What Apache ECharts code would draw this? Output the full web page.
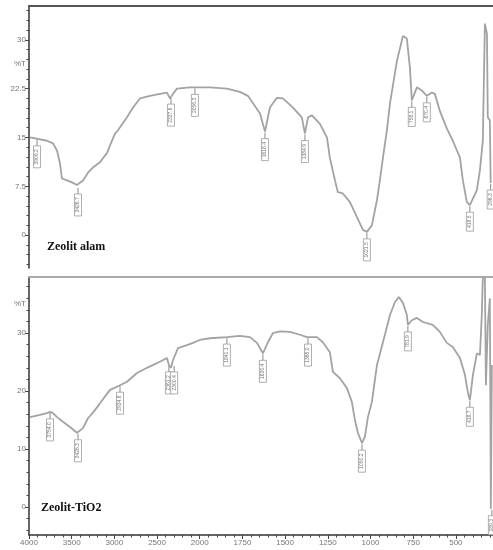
<!DOCTYPE html>
<html>
<head>
<meta charset="utf-8">
<script src="https://cdn.jsdelivr.net/npm/echarts@6/dist/echarts.min.js"></script>
<style>
html,body{margin:0;padding:0;background:#fff;}
#chart{width:493px;height:550px;}
</style>
</head>
<body>
<div id="chart"></div>
<script>
// ---- Data (wavenumber cm-1, %T) ----
const topWn = [3988,3789,3719,3672,3637,3614,3555,3496,3438,3426,3368,3309,3251,3169,3087,3051,2993,2958,2852,2782,2700,2583,2466,2384,2349,2314,2267,2115,1940,1841,1765,1718,1647,1618,1589,1548,1513,1454,1402,1384,1366,1343,1296,1255,1238,1208,1191,1162,1121,1080,1044,1021,992,962,945,927,904,886,845,810,787,769,758,728,699,670,640,623,594,553,518,476,459,436,418,377,359,342,330,318,313,301,296];
const topT  = [15.0,14.5,14.1,13.0,11.0,8.7,8.4,8.1,7.7,7.4,8.4,9.6,10.4,11.2,12.6,13.8,15.6,16.1,18.1,19.6,21.0,21.4,21.7,21.9,21.0,21.7,22.5,22.7,22.7,22.5,22.0,21.4,18.7,15.9,19.6,21.1,21.0,19.6,18.1,15.6,18.1,18.4,17.1,15.0,11.9,8.4,6.6,6.4,5.1,2.8,0.8,0.5,1.5,5.4,8.4,11.9,16.1,20.2,26.8,30.6,30.2,25.7,20.7,22.7,22.2,21.4,21.9,21.7,19.1,16.4,14.5,11.9,8.4,5.1,4.6,6.9,10.0,14.5,32.5,30.9,18.1,17.6,8.0];

const botWn = [3988,3871,3789,3754,3719,3672,3602,3520,3438,3426,3368,3309,3227,3169,3051,2934,2852,2735,2618,2501,2384,2361,2337,2314,2255,2150,2080,2000,1940,1841,1765,1706,1665,1630,1601,1571,1530,1472,1413,1372,1314,1279,1238,1220,1179,1138,1109,1091,1074,1050,1033,1015,992,962,927,886,857,834,810,787,781,758,728,693,635,594,553,518,476,447,430,418,400,377,359,348,342,330,324,313,301,295,289];
const botT  = [15.5,15.9,16.2,16.4,16.2,15.5,14.7,13.8,12.8,12.8,13.6,15.3,16.7,17.9,20.2,21.0,21.6,23.1,24.0,24.8,25.7,24.5,24.0,25.3,27.4,27.9,28.3,28.8,29.1,29.3,29.5,29.3,28.3,26.5,28.4,30.0,30.3,30.2,29.7,29.3,29.3,28.4,26.7,23.3,22.2,20.5,18.1,15.0,12.8,11.0,12.1,15.5,18.1,24.5,28.4,33.1,35.3,36.2,35.2,33.1,31.4,32.2,32.6,31.9,31.4,30.2,28.3,27.6,25.7,22.8,19.8,18.4,22.8,26.5,26.2,33.1,39.6,39.6,21.0,31.4,36.0,-0.3,24.5];

// peak annotations
const topPeakWn   = [3906,3426,2337,2056,1618,1384,1021,758,670,418,296];
const topPeakT    = [14.8,7.4,21.2,22.7,15.9,15.6,0.5,20.7,21.4,4.6,8.0];
const topPeakText = ['3906.2','3426.7','2337.6','2056.3','1618.4','1384.9','1021.5','758.1','670.4','418.5','296.3'];

const botPeakWn   = [3754,3426,2934,2361,2300,1841,1630,1366,1050,781,418,289];
const botPeakT    = [16.4,12.8,21.0,24.5,24.5,29.3,26.5,29.3,11.0,31.4,18.4,-0.3];
const botPeakText = ['3754.0','3426.3','2934.6','2361.2','2300.4','1841.1','1630.4','1366.0','1050.2','781.9','418.7','289.3'];

// axis ticks / labels
const xTickLabels = ['4000','3500','3000','2500','2000','1750','1500','1250','1000','750','500'];
const topYLabels = [0, 7.5, 15, 22.5, 26.25, 30];
const topYTexts  = ['0','7.5','15','22.5','%T','30'];
const topYMajor  = [0, 7.5, 15, 22.5, 30];
const botYLabels = [0, 10, 20, 30, 35];
const botYTexts  = ['0','10','20','30','%T'];
const botYMajor  = [0, 10, 20, 30];

// ---- helpers ----
const xPos = wn => wn >= 2000 ? (4000 - wn) / 500 : 4 + (2000 - wn) / 250;
const XMAX = 10.87;
const range = (a, b, s) => { const r = []; for (let v = a; v <= b + 1e-9; v += s) r.push(Math.round(v * 1000) / 1000); return r; };

const topMinor = range(-4.5, 34.5, 1.5);
const botMinor = range(-4, 38, 2);
const xMajor = range(0, 10, 1);
const xMinor = range(0, 10.8, 0.2);

const lineColor = '#a3a3a3';
const tickColor = '#444';
const labelStyle = {color: '#777', fontSize: 8, fontFamily: 'Liberation Sans'};

function peakSeries(xi, yi, wns, ts, texts) {
  return {
    type: 'custom', xAxisIndex: xi, yAxisIndex: yi, silent: true, clip: false, z: 5,
    data: wns.map((w, i) => [xPos(w), ts[i]]),
    renderItem: function (params, api) {
      const pt = api.coord([api.value(0), api.value(1)]);
      const txt = texts[params.dataIndex];
      const L = txt.length * 3.0 + 4;
      const off = 7;
      return {
        type: 'group',
        children: [
          {type: 'line', shape: {x1: pt[0], y1: pt[1] + 1, x2: pt[0], y2: pt[1] + off}, style: {stroke: '#8a8a8a', lineWidth: 1}},
          {type: 'rect', shape: {x: pt[0] - 3.5, y: pt[1] + off, width: 7, height: L}, style: {fill: '#fff', stroke: '#9a9a9a', lineWidth: 0.8}},
          {type: 'text', x: pt[0], y: pt[1] + off + L / 2, rotation: Math.PI / 2,
            style: {text: txt, fontSize: 5, fontFamily: 'Liberation Sans', fill: '#777', align: 'center', verticalAlign: 'middle', textAlign: 'center', textVerticalAlign: 'middle'}}
        ]
      };
    }
  };
}

const chart = echarts.init(document.getElementById('chart'));
const hiddenX = (gi, pos) => ({type: 'value', gridIndex: gi, position: pos, min: 0, max: XMAX,
  axisLine: {show: false, onZero: false}, axisTick: {show: false}, axisLabel: {show: false}, splitLine: {show: false}});

chart.setOption({
  animation: false,
  backgroundColor: '#fff',
  grid: [
    {left: 29, right: 0, top: 6, height: 262},
    {left: 29, right: 0, top: 277, height: 258}
  ],
  xAxis: [
    hiddenX(0, 'bottom'),
    Object.assign(hiddenX(0, 'top'), {axisLine: {show: true, onZero: false, lineStyle: {color: '#555', width: 2}}}),
    {type: 'value', gridIndex: 1, position: 'bottom', min: 0, max: XMAX,
      axisLine: {show: true, onZero: false, lineStyle: {color: '#333', width: 1.5}},
      axisTick: {show: true, customValues: xMajor, length: 4, inside: false, lineStyle: {color: tickColor}},
      axisLabel: Object.assign({show: true, customValues: xMajor, margin: 4, formatter: v => xTickLabels[Math.round(v)]}, labelStyle),
      splitLine: {show: false}},
    Object.assign(hiddenX(1, 'top'), {axisLine: {show: true, onZero: false, lineStyle: {color: '#aaa', width: 2}}}),
    Object.assign(hiddenX(1, 'bottom'), {axisTick: {show: true, customValues: xMinor, length: 2.5, lineStyle: {color: tickColor}}})
  ],
  yAxis: [
    {type: 'value', gridIndex: 0, min: -5.05, max: 35.2, position: 'left',
      axisLine: {show: true, onZero: false, lineStyle: {color: '#333', width: 1.5}},
      axisTick: {show: true, customValues: topYMajor, length: 4, lineStyle: {color: tickColor}},
      axisLabel: Object.assign({show: true, customValues: topYLabels, margin: 3, formatter: v => topYTexts[topYLabels.indexOf(v)]}, labelStyle),
      splitLine: {show: false}},
    {type: 'value', gridIndex: 0, min: -5.05, max: 35.2, position: 'left',
      axisLine: {show: false, onZero: false},
      axisTick: {show: true, customValues: topMinor, length: 2.5, lineStyle: {color: tickColor}},
      axisLabel: {show: false}, splitLine: {show: false}},
    {type: 'value', gridIndex: 1, min: -4.83, max: 39.66, position: 'left',
      axisLine: {show: true, onZero: false, lineStyle: {color: '#333', width: 1.5}},
      axisTick: {show: true, customValues: botYMajor, length: 4, lineStyle: {color: tickColor}},
      axisLabel: Object.assign({show: true, customValues: botYLabels, margin: 3, formatter: v => botYTexts[botYLabels.indexOf(v)]}, labelStyle),
      splitLine: {show: false}},
    {type: 'value', gridIndex: 1, min: -4.83, max: 39.66, position: 'left',
      axisLine: {show: false, onZero: false},
      axisTick: {show: true, customValues: botMinor, length: 2.5, lineStyle: {color: tickColor}},
      axisLabel: {show: false}, splitLine: {show: false}}
  ],
  series: [
    {type: 'line', xAxisIndex: 0, yAxisIndex: 0, showSymbol: false, symbol: 'none',
      data: topWn.map((w, i) => [xPos(w), topT[i]]),
      lineStyle: {color: lineColor, width: 1.8}},
    {type: 'line', xAxisIndex: 2, yAxisIndex: 2, showSymbol: false, symbol: 'none',
      data: botWn.map((w, i) => [xPos(w), botT[i]]),
      lineStyle: {color: lineColor, width: 1.8}},
    peakSeries(0, 0, topPeakWn, topPeakT, topPeakText),
    peakSeries(2, 2, botPeakWn, botPeakT, botPeakText)
  ],
  graphic: [
    {type: 'text', left: 47, top: 241, style: {text: 'Zeolit alam', fontSize: 12, fontWeight: 'bold', fontFamily: 'Liberation Serif', fill: '#111'}},
    {type: 'text', left: 41, top: 502, style: {text: 'Zeolit-TiO2', fontSize: 12, fontWeight: 'bold', fontFamily: 'Liberation Serif', fill: '#111'}}
  ]
});
</script>
</body>
</html>
